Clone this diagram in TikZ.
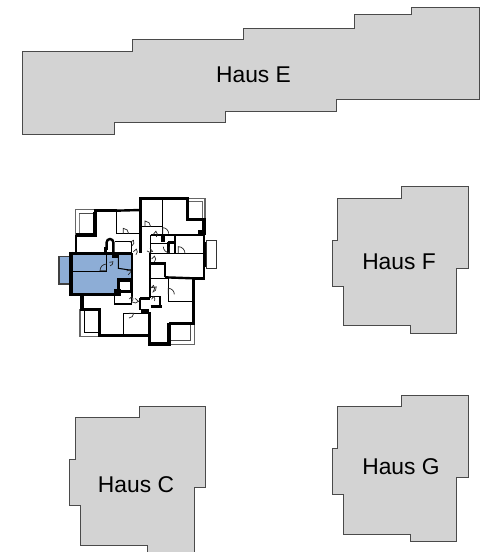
\documentclass[tikz,border=0pt]{standalone}
\usepackage{fontspec}
\setmainfont{Liberation Sans}
\definecolor{hausgray}{HTML}{D3D3D3}
\definecolor{hausline}{HTML}{4A4A4A}
\definecolor{aptblue}{HTML}{8DADD6}
\tikzset{
  haus/.style={fill=hausgray,draw=hausline,line width=0.9pt,line join=miter},
  hauslabel/.style={font=\fontsize{22.8pt}{24pt}\selectfont,text=black,inner sep=0pt},
  wall/.style={draw=black,line width=3.2pt,line cap=butt,line join=miter},
  wallm/.style={draw=black,line width=2.4pt,line cap=butt,line join=miter},
  inner/.style={draw=black,line width=1.05pt,line cap=butt},
  thinl/.style={draw=black,line width=0.9pt,line cap=butt},
  balc/.style={draw=black!60,line width=1.3pt},
  doorl/.style={draw=black!85,line width=0.7pt}
}
\newcommand{\doorsym}[4]{\draw[doorl,shift={(#1,#2)},rotate=#3] (0,0) -- (0,-#4) arc (-90:0:#4) ;}
\begin{document}
\begin{tikzpicture}[x=1pt,y=-1pt]
\useasboundingbox (0,0) rectangle (488,552);
\fill[white] (0,0) rectangle (488,552);
% Haus E
\draw[haus] (22.3,51) -- (132.3,51) -- (132.3,39.7) -- (243.7,39.7) -- (243.7,28.3) -- (354.3,28.3) -- (354.3,14.7) -- (411.7,14.7) -- (411.7,7.3) -- (479.3,7.3) -- (479.3,99) -- (336.7,99) -- (336.7,111) -- (225.3,111) -- (225.3,122.3) -- (114.7,122.3) -- (114.7,134) -- (22.3,134) -- cycle;
\node[hauslabel] (hausE) at (253.5,75) {Haus E};
% Haus F
\draw[haus] (401.7,186.7) -- (468.3,186.7) -- (468.3,268.7) -- (456.7,268.7) -- (456.7,333.3) -- (410.3,333.3) -- (410.3,325.7) -- (343,325.7) -- (343,286) -- (332.7,286) -- (332.7,240) -- (337.7,240) -- (337.7,198.3) -- (401.7,198.3) -- cycle;
\node[hauslabel] (hausF) at (399,261.5) {Haus F};
% Haus G
\draw[haus,yshift=-208.3pt] (401.7,186.7) -- (468.3,186.7) -- (468.3,268.7) -- (456.7,268.7) -- (456.7,333.3) -- (410.3,333.3) -- (410.3,325.7) -- (343,325.7) -- (343,286) -- (332.7,286) -- (332.7,240) -- (337.7,240) -- (337.7,198.3) -- (401.7,198.3) -- cycle;
\node[hauslabel] (hausG) at (401,467) {Haus G};
% Haus C
\draw[haus] (139,406.3) -- (205.7,406.3) -- (205.7,487.7) -- (194.3,487.7) -- (194.3,553) -- (147.7,553) -- (147.7,545) -- (80,545) -- (80,505.7) -- (69.7,505.7) -- (69.7,459.3) -- (75,459.3) -- (75,417.7) -- (139,417.7) -- cycle;
\node[hauslabel] (hausC) at (136,484.5) {Haus C};
% Floor plan, drawn in 3x units of the reference
\begin{scope}[x=0.3333pt,y=-0.3333pt,shift={(50pt,-185pt)}]
% blue flat and balcony
\fill[aptblue] (65,205) -- (245,205) -- (245,285) -- (205,285) -- (205,325) -- (65,325) -- cycle;
\draw[fill=aptblue,draw=black!75,line width=1.4pt] (27,215) rectangle (58,297);
% balconies (thin outer)
\draw[balc] (135,73) -- (76,73) -- (76,150);
\draw[balc] (90,373) -- (90,455) -- (148,455);
\draw[balc] (415,41) -- (465,41) -- (465,100);
\draw[balc] (433,415) -- (433,478) -- (357,478);
\draw[inner,draw=black!80] (470,167) rectangle (500,250);
\draw[thinl,draw=black!50] (87,85) -- (87,148);
\draw[thinl,draw=black!70] (88,85) -- (130,85);
\draw[thinl] (102,376) -- (102,443) -- (146,443);
\draw[thinl,draw=black!60] (415,50) -- (457,50) -- (457,100) -- (415,100);
\draw[thinl,draw=black!70] (360,467) -- (422,467) -- (422,418);
% outer walls
\draw[wallm] (78,205) -- (78,150);
\draw[wall] (78,150) -- (135,150) -- (135,80);
\draw[wall] (131,77) -- (200,77);
\draw[wallm] (200,77) -- (272,75);
\draw[wall] (272,75) -- (272,41) -- (412,41) -- (412,104) -- (462,104) -- (462,150);
\draw[wallm] (272,75) -- (272,205);
\draw[wallm] (462,150) -- (462,280) -- (430,280);
\draw[wall] (463,172) -- (463,245);
\draw[wallm] (430,280) -- (430,415) -- (357,415);
\draw[wall] (357,415) -- (357,477) -- (298,477) -- (298,450);
\draw[wallm] (298,450) -- (298,380);
\draw[wall] (148,452) -- (298,452);
\draw[wall] (96,325) -- (96,373) -- (148,373) -- (148,455);
\draw[wall] (63,200) -- (63,328) -- (205,328);
\draw[wall] (63,205) -- (165,205);
\draw[wall] (167,205) -- (167,185);
\draw[wallm] (165,205) -- (247,205);
% interior thick
\draw[wallm] (303,150) -- (462,150);
\draw[inner] (245,205) -- (245,285);
\draw[wall] (205,322) -- (205,285) -- (245,285) -- (245,322);
\draw[wallm] (205,320) -- (245,320);
\fill (192,312) rectangle (212,333);
\fill (185,203) rectangle (207,218);
\fill (332,148) rectangle (345,170);
\fill (445,135) rectangle (465,152);
\draw[wallm] (355,172) -- (375,172) -- (375,205);
\draw[wallm] (355,172) -- (355,205);
\draw[wallm] (300,235) -- (345,235) -- (345,277);
\draw[wallm] (345,277) -- (430,280);
\draw[wall] (302,365) -- (335,365);
\draw[wallm] (270,340) -- (300,340);
\draw[wallm] (270,340) -- (270,375);
\draw[wall] (272,378) -- (298,378);
\draw[inner] (300,280) -- (355,280);
% interior thin
\draw[inner] (200,80) -- (200,145) -- (272,145);
\draw[inner] (337,45) -- (337,150);
\draw[inner] (272,125) -- (337,125);
\draw[inner] (302,150) -- (302,205);
\draw[inner] (302,175) -- (355,175);
\draw[inner] (247,205) -- (247,340);
\draw[inner] (300,205) -- (300,340);
\draw[inner] (300,205) -- (460,205);
\draw[inner] (375,150) -- (375,172);
\draw[inner] (355,280) -- (355,350) -- (430,350);
\draw[inner] (302,335) -- (330,335) -- (330,365);
\draw[inner] (193,325) -- (193,357) -- (245,357) -- (245,325);
\draw[inner] (220,450) -- (220,385) -- (298,385);
\draw[inner] (65,260) -- (170,260) -- (170,210);
\draw[inner] (205,210) -- (205,250) -- (245,256);
\draw[inner] (195,170) -- (245,170) -- (245,205);
% arched door
\draw[wallm] (170,195) -- (170,172) arc (180:360:10) -- (190,205);
% doors
\doorsym{220}{146}{0}{16}
\doorsym{285}{125}{0}{17}
\doorsym{338}{146}{0}{18}
\doorsym{385}{205}{0}{20}
\doorsym{355}{328}{0}{18}
\doorsym{237}{385}{-90}{14}
\doorsym{170}{257}{90}{20}
\doorsym{178}{232}{-80}{11}
\doorsym{240}{172}{-60}{12}
\doorsym{250}{200}{-50}{12}
\doorsym{300}{190}{-140}{12}
\doorsym{305}{222}{-45}{12}
\doorsym{310}{148}{-40}{12}
\doorsym{358}{185}{-180}{18}
\doorsym{302}{310}{-45}{12}
\doorsym{305}{308}{-80}{14}
\doorsym{238}{342}{-45}{11}
\doorsym{255}{340}{-130}{14}
\doorsym{305}{343}{-30}{10}
\doorsym{230}{258}{-70}{12}
\end{scope}
\end{tikzpicture}
\end{document}
